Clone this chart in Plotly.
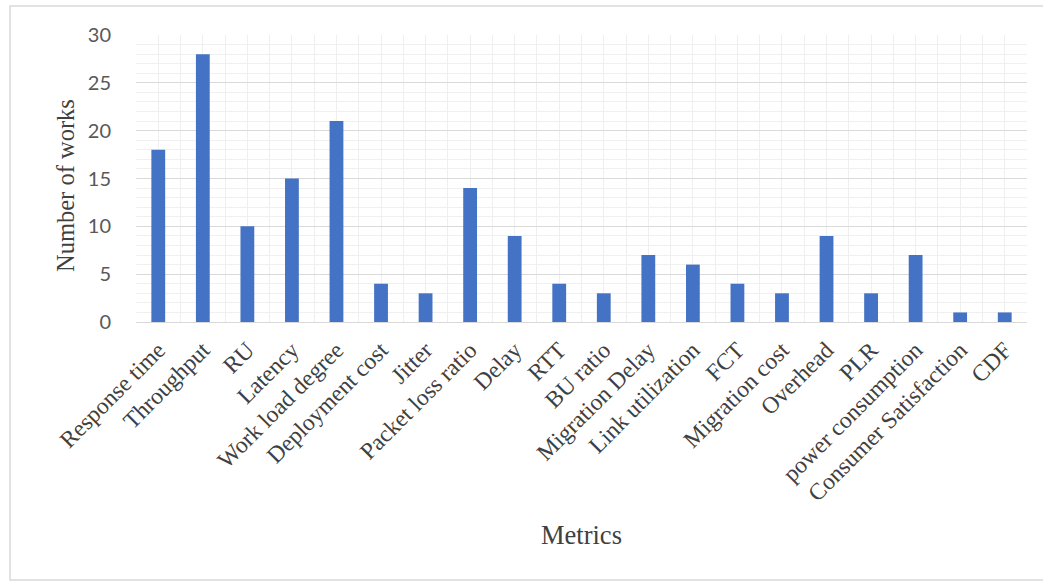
import plotly.graph_objects as go

categories = ["Response time", "Throughput", "RU", "Latency", "Work load degree",
              "Deployment cost", "Jitter", "Packet loss ratio", "Delay", "RTT",
              "BU ratio", "Migration Delay", "Link utilization", "FCT", "Migration cost",
              "Overhead", "PLR", "power consumption", "Consumer Satisfaction", "CDF"]
values = [18, 28, 10, 15, 21, 4, 3, 14, 9, 4, 3, 7, 6, 4, 3, 9, 3, 7, 1, 1]
y_ticks = [0, 5, 10, 15, 20, 25, 30]

x_idx = list(range(len(categories)))

W, H = 1043, 581
L, R, T, B = 136, 1043 - 1027, 35, 581 - 322
pw, ph = W - L - R, H - T - B

fig = go.Figure(go.Bar(x=x_idx, y=values, marker=dict(color="#4472C4", line=dict(width=0)),
                       width=0.31))

fig.update_layout(
    width=W, height=H,
    margin=dict(l=L, r=R, t=T, b=B, pad=0),
    paper_bgcolor="white", plot_bgcolor="white",
    showlegend=False,
    xaxis=dict(
        range=[-0.5, len(categories) - 0.5],
        tickmode="array", tickvals=x_idx, ticktext=categories,
        tickangle=-45,
        tickfont=dict(family="Liberation Serif", size=23.5, color="#404040"),
        ticklabelstandoff=4,
        showgrid=True, gridcolor="#efefef", gridwidth=1,
        minor=dict(tick0=-0.5, dtick=1, showgrid=True, gridcolor="#efefef", gridwidth=1),
        showline=True, linecolor="#d9d9d9", linewidth=1,
        ticks="", zeroline=False,
        automargin=False,
    ),
    yaxis=dict(
        range=[0, 30],
        tickmode="array", tickvals=y_ticks,
        tickfont=dict(family="Lato", size=20, color="#595959"),
        ticklabelstandoff=24,
        showgrid=True, gridcolor="#d9d9d9", gridwidth=1,
        minor=dict(dtick=1, showgrid=True, gridcolor="#f0f0f0", gridwidth=1),
        showline=False, zeroline=False, ticks="",
        automargin=False,
    ),
)

fig.add_annotation(text="Metrics", xref="paper", yref="paper",
                   x=0.5, y=(322 - 535) / ph, xanchor="center", yanchor="middle",
                   showarrow=False,
                   font=dict(family="Liberation Serif", size=26.5, color="#404040"))
fig.add_annotation(text="Number of works", xref="paper", yref="paper",
                   x=(65 - L) / pw, y=(322 - 186) / ph, xanchor="center", yanchor="middle",
                   textangle=-90, showarrow=False,
                   font=dict(family="Liberation Serif", size=24.5, color="#404040"))

# outer chart border
fig.add_shape(type="rect", xref="paper", yref="paper",
              x0=(10 - L) / pw, x1=(1050 - L) / pw,
              y0=(322 - 580) / ph, y1=(322 - 6) / ph,
              line=dict(color="#d9d9d9", width=1.5), layer="below")

fig.write_html("out.html", config={"displayModeBar": False},
               post_script="document.body.style.margin='0';")
